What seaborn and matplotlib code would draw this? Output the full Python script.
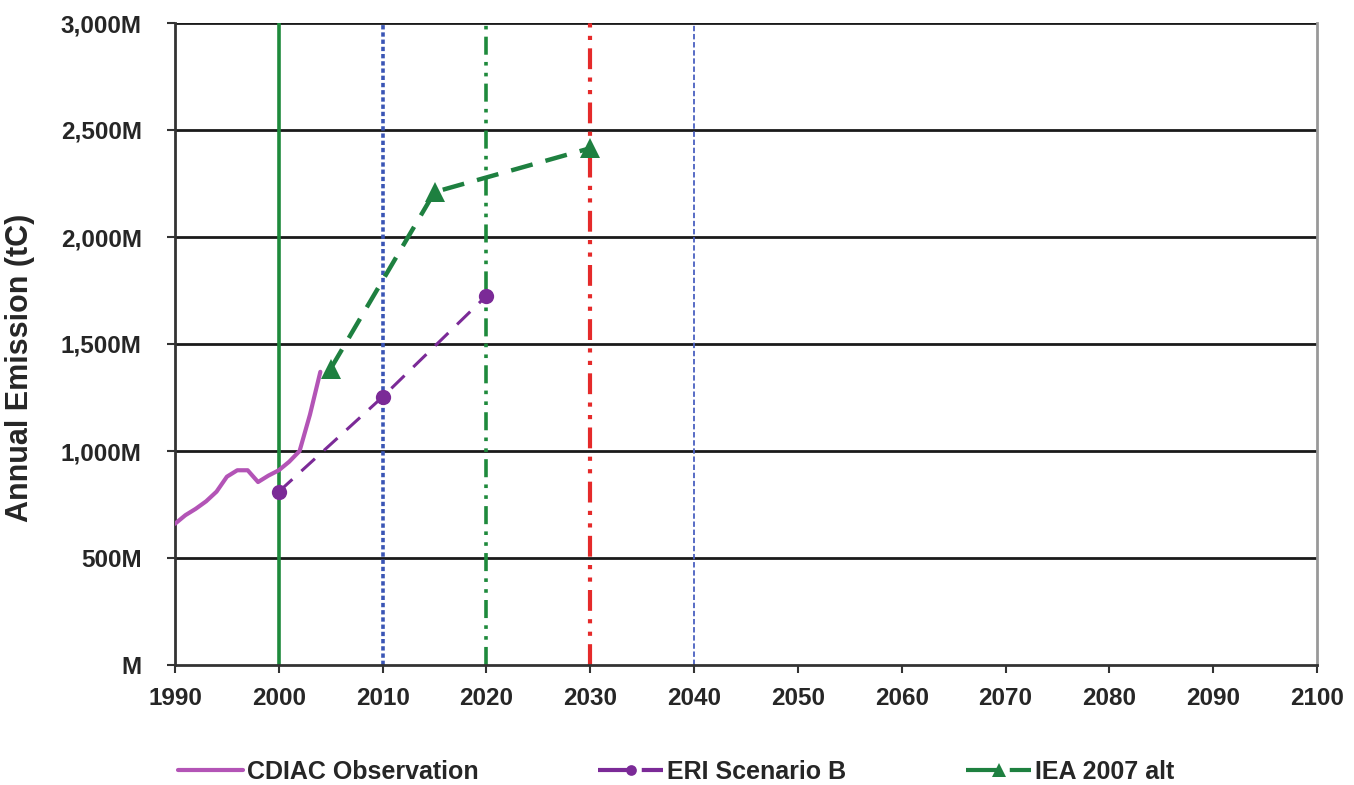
import numpy as np
import pandas as pd
import matplotlib
matplotlib.use("Agg")
import matplotlib.pyplot as plt
from matplotlib.ticker import FuncFormatter
import seaborn as sns

# ---- data (million tC) ----
cdiac_years = [1990, 1991, 1992, 1993, 1994, 1995, 1996, 1997, 1998, 1999, 2000, 2001, 2002, 2003, 2004]
cdiac_values = [660, 700, 730, 765, 810, 880, 910, 910, 855, 885, 910, 950, 1000, 1170, 1370]

eri_years = [2000, 2010, 2020]
eri_values = [810, 1253, 1725]

iea_years = [2005, 2015, 2030]
iea_values = [1385, 2210, 2415]

ref_years = [2000, 2010, 2020, 2030, 2040]
ref_colors = ["#1e8a3c", "#3a55b5", "#1e8a3c", "#e52a2a", "#4a60c0"]
ref_styles = ["-", (0, (1.2, 0.8)), (0, (5, 2, 1, 2, 1, 2)), (0, (5, 2, 1, 2, 1, 2)), (0, (3, 1.5))]
ref_widths = [2.6, 2.6, 2.6, 3.0, 1.3]

series_labels = ["CDIAC Observation", "ERI Scenario B", "IEA 2007 alt"]
x_ticks = list(range(1990, 2101, 10))
y_ticks = list(range(0, 3001, 500))

sns.set_style("white")
plt.rcParams["font.family"] = ["Liberation Sans", "DejaVu Sans"]
plt.rcParams["font.weight"] = "bold"

fig = plt.figure(figsize=(13.54, 7.85), dpi=100)
ax = fig.add_axes([175 / 1354, 1 - 665 / 785, (1317 - 175) / 1354, (665 - 23) / 785])

# horizontal gridlines
for yv in y_ticks[1:]:
    ax.axhline(yv, color="#1a1a1a", lw=2.0, zorder=1)

# reference vertical lines
for yr, c, ls, lw in zip(ref_years, ref_colors, ref_styles, ref_widths):
    ax.axvline(yr, color=c, linestyle=ls, lw=lw, zorder=2)

df_c = pd.DataFrame({"year": cdiac_years, "val": cdiac_values})
df_e = pd.DataFrame({"year": eri_years, "val": eri_values})
df_i = pd.DataFrame({"year": iea_years, "val": iea_values})

sns.lineplot(data=df_c, x="year", y="val", ax=ax, color="#b354b6", lw=3.0,
             label=series_labels[0], zorder=5)
sns.lineplot(data=df_e, x="year", y="val", ax=ax, color="#7b2a97", lw=2.2,
             linestyle=(0, (6, 4)), marker="o", markersize=11, markeredgewidth=0,
             label=series_labels[1], zorder=5)
sns.lineplot(data=df_i, x="year", y="val", ax=ax, color="#1e8040", lw=3.2,
             linestyle=(0, (5, 3)), marker="^", markersize=14, markeredgewidth=0,
             label=series_labels[2], zorder=5)

ax.set_xlim(1990, 2100)
ax.set_ylim(0, 3000)
ax.set_xticks(x_ticks)
ax.set_yticks(y_ticks)
ax.yaxis.set_major_formatter(FuncFormatter(lambda v, p: f"{v:,.0f}M" if v else "M"))
ax.tick_params(axis="both", labelsize=17.5, length=6, width=1.5, color="#333333",
               direction="out", bottom=True, left=True)
ax.tick_params(axis="x", pad=10)
ax.tick_params(axis="y", pad=18)
for lab in ax.get_xticklabels() + ax.get_yticklabels():
    lab.set_fontweight("bold")

for side in ["left", "bottom"]:
    ax.spines[side].set_color("#333333")
    ax.spines[side].set_linewidth(2.0)
ax.spines["right"].set_color("#999999")
ax.spines["right"].set_linewidth(2.0)
ax.spines["top"].set_visible(False)

ax.set_xlabel("")
ax.set_ylabel("Annual Emission (tC)", fontsize=22, fontweight="bold")
ax.yaxis.set_label_coords(-0.1226, 0.4626)

leg = ax.legend(loc="center", bbox_to_anchor=(0.4993, 0.017), bbox_transform=fig.transFigure,
                ncol=3, frameon=False, handlelength=2.6, handletextpad=0.16,
                columnspacing=4.8, markerscale=0.7, prop={"weight": "bold", "size": 18})
for h in leg.get_lines()[1:]:
    h.set_linestyle((0, (8, 2.5)))
    h.set_linewidth(3.0)

fig.savefig("out.png", dpi=100, facecolor="white")
